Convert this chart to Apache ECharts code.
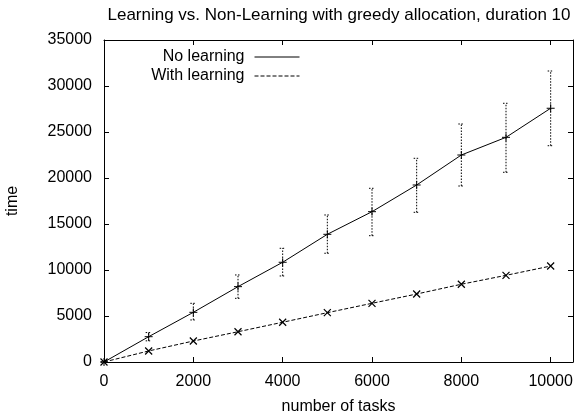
<!DOCTYPE html>
<html>
<head>
<meta charset="utf-8">
<script src="https://cdn.jsdelivr.net/npm/echarts@6/dist/echarts.min.js"></script>
<style>
  html, body { margin: 0; padding: 0; background: #fff; }
  #chart { width: 579px; height: 416px; }
</style>
</head>
<body>
<div id="chart"></div>
<script>
// Number of tasks on the x axis
const tasks = [0, 1000, 2000, 3000, 4000, 5000, 6000, 7000, 8000, 9000, 10000];

// Mean completion time without learning, with the spread shown as error bars
const noLearning     = [0, 2750, 5400, 8190, 10840, 13880, 16340, 19240, 22500, 24420, 27580];
const noLearningLow  = [0, 2300, 4570, 6920, 9350, 11820, 13730, 16270, 19130, 20620, 23510];
const noLearningHigh = [0, 3200, 6380, 9460, 12360, 15980, 18880, 22140, 25870, 28120, 31630];

// Mean completion time with learning
const withLearning = [0, 1200, 2280, 3290, 4320, 5360, 6380, 7390, 8450, 9420, 10430];

const FONT = '"Liberation Sans", Arial, Helvetica, sans-serif';
const PLUS = 'path://M0,5 L10,5 M5,0 L5,10';
const CROSS = 'path://M0,0 L10,10 M10,0 L0,10';

const chart = echarts.init(document.getElementById('chart'), null, { renderer: 'canvas' });

const lineData = (ys) => tasks.map((x, i) => [x, ys[i]]);
const errData = tasks.map((x, i) => [x, noLearningLow[i], noLearningHigh[i]]);

function renderErrorBar(params, api) {
  const x = api.value(0);
  const lo = api.coord([x, api.value(1)]);
  const hi = api.coord([x, api.value(2)]);
  const cap = 3;
  const style = { stroke: '#000', lineWidth: 1, lineDash: [1.5, 1.5], fill: null };
  return {
    type: 'group',
    children: [
      { type: 'line', shape: { x1: lo[0], y1: lo[1], x2: hi[0], y2: hi[1] }, style },
      { type: 'line', shape: { x1: lo[0] - cap, y1: lo[1], x2: lo[0] + cap, y2: lo[1] }, style },
      { type: 'line', shape: { x1: hi[0] - cap, y1: hi[1], x2: hi[0] + cap, y2: hi[1] }, style }
    ]
  };
}

const plainNumber = (v) => String(v);

const axisCommon = {
  type: 'value',
  splitLine: { show: false },
  axisLine: { show: true, onZero: false, lineStyle: { color: '#000', width: 1 } },
  axisTick: { show: true, inside: true, length: 5, lineStyle: { color: '#000', width: 1 } },
  axisLabel: { color: '#000', fontFamily: FONT, fontSize: 16, formatter: plainNumber }
};

const legendCommon = {
  orient: 'vertical',
  align: 'right',
  itemWidth: 45,
  itemHeight: 12,
  textStyle: { color: '#000', fontFamily: FONT, fontSize: 16, padding: [0, 5, 0, 0] },
  itemStyle: { opacity: 0 },
  right: 274
};

chart.setOption({
  animation: false,
  backgroundColor: '#fff',
  title: {
    text: 'Learning vs. Non-Learning with greedy allocation, duration 10',
    left: 334,
    textAlign: 'center',
    top: 2,
    textStyle: { color: '#000', fontFamily: FONT, fontSize: 17, fontWeight: 'normal' }
  },
  legend: [
    Object.assign({}, legendCommon, {
      data: ['No learning'], top: 44,
      lineStyle: { width: 1, type: 'solid' }
    }),
    Object.assign({}, legendCommon, {
      data: ['With learning'], top: 63,
      lineStyle: { width: 1, type: [4, 2] }
    })
  ],
  grid: { left: 104, right: 6, top: 40, bottom: 54, containLabel: false, outerBoundsMode: 'none' },
  xAxis: [
    Object.assign({}, axisCommon, {
      position: 'bottom', min: 0, max: 10500, interval: 2000,
      name: 'number of tasks', nameLocation: 'middle', nameGap: 37,
      nameTextStyle: { color: '#000', fontFamily: FONT, fontSize: 16 },
      axisLabel: Object.assign({}, axisCommon.axisLabel, { showMaxLabel: false, margin: 12 })
    }),
    Object.assign({}, axisCommon, {
      position: 'top', min: 0, max: 10500, interval: 2000,
      axisLabel: { show: false }
    })
  ],
  yAxis: [
    Object.assign({}, axisCommon, {
      position: 'left', min: 0, max: 35000, interval: 5000,
      name: 'time', nameLocation: 'middle', nameGap: 83, nameRotate: 90,
      nameTextStyle: { color: '#000', fontFamily: FONT, fontSize: 16 },
      axisLabel: Object.assign({}, axisCommon.axisLabel, { margin: 12 })
    }),
    Object.assign({}, axisCommon, {
      position: 'right', min: 0, max: 35000, interval: 5000,
      axisLabel: { show: false }
    })
  ],
  series: [
    {
      name: 'No learning',
      type: 'line',
      data: lineData(noLearning),
      symbol: PLUS,
      symbolSize: 8,
      showAllSymbol: true,
      itemStyle: { color: 'none', borderColor: '#000', borderWidth: 1 },
      lineStyle: { color: '#000', width: 1, type: 'solid' },
      emphasis: { disabled: true },
      z: 3
    },
    {
      name: 'With learning',
      type: 'line',
      data: lineData(withLearning),
      symbol: CROSS,
      symbolSize: 7,
      itemStyle: { color: 'none', borderColor: '#000', borderWidth: 1.2 },
      lineStyle: { color: '#000', width: 1, type: [4, 2] },
      emphasis: { disabled: true },
      z: 3
    },
    {
      name: 'spread',
      type: 'custom',
      renderItem: renderErrorBar,
      data: errData,
      encode: { x: 0, y: [1, 2] },
      z: 2
    }
  ]
});
</script>
</body>
</html>
